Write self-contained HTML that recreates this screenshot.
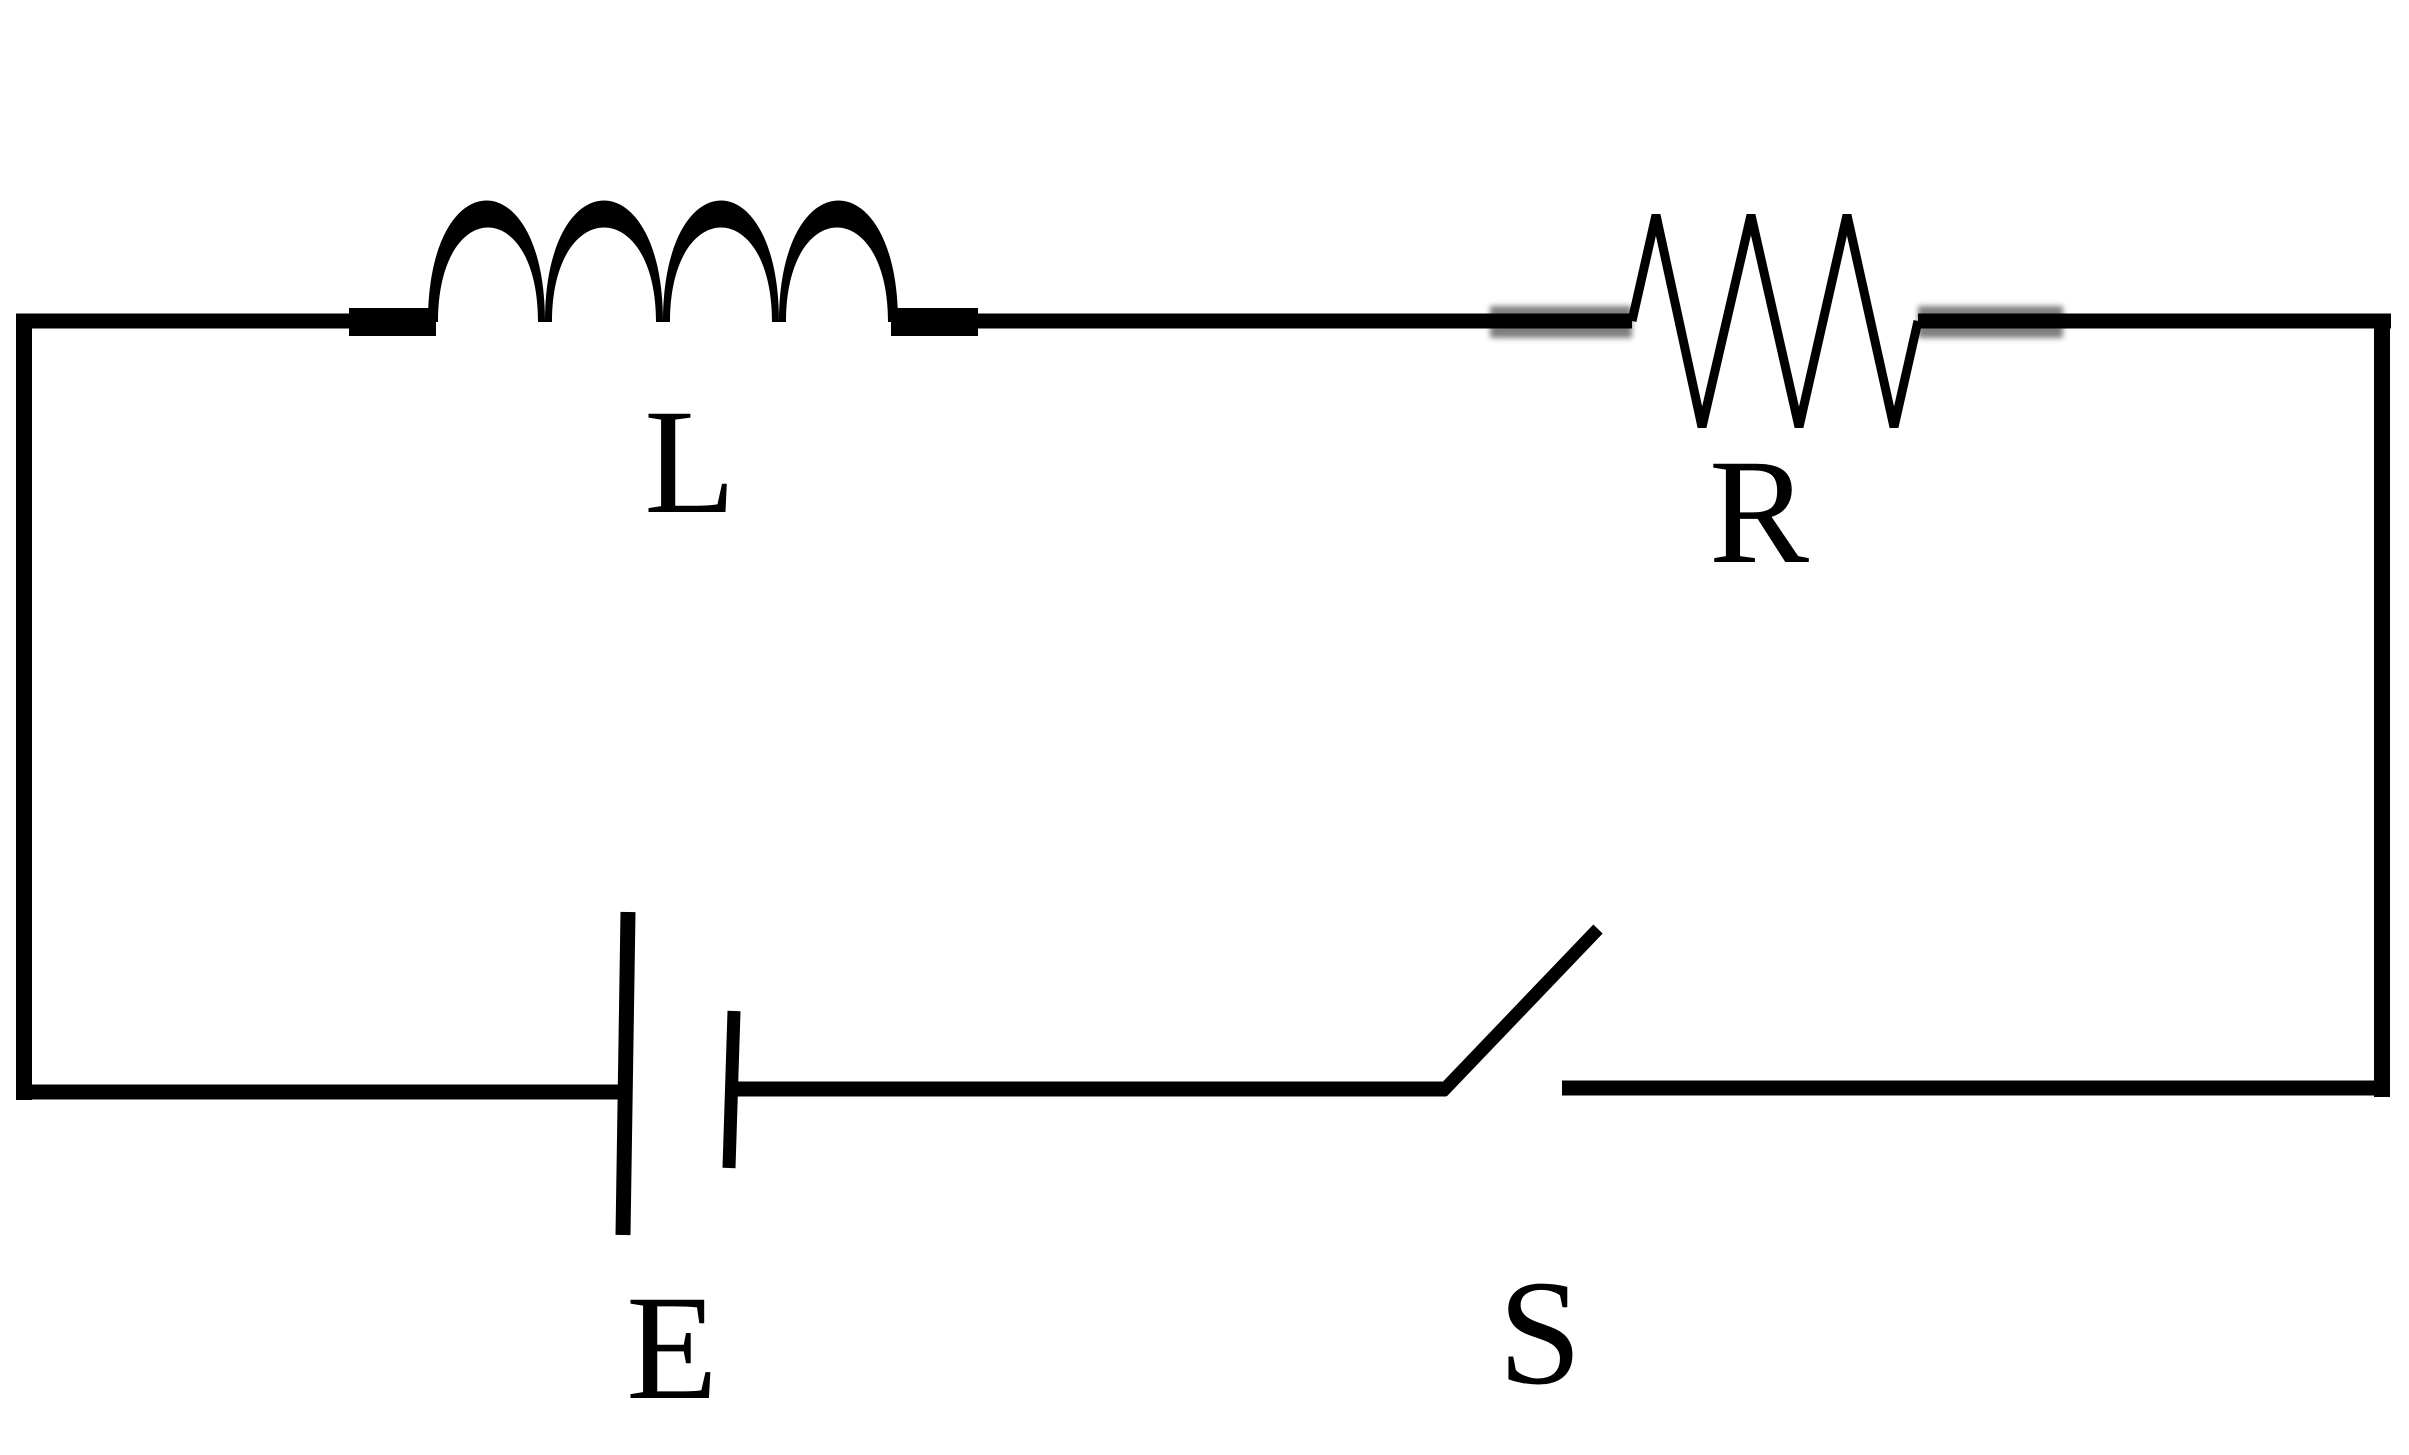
<!DOCTYPE html>
<html><head><style>
html,body{margin:0;padding:0;background:#fff;}
svg{display:block;}
text{font-family:"Liberation Serif","Times New Roman",Times,serif;font-size:150px;fill:#000;}
</style></head><body>
<svg width="2409" height="1455" viewBox="0 0 2409 1455" xmlns="http://www.w3.org/2000/svg">
<defs><filter id="b" x="-10%" y="-100%" width="120%" height="300%"><feGaussianBlur stdDeviation="3"/></filter></defs>
<line x1="16" y1="321" x2="2391" y2="321" stroke="#000" stroke-width="15"/>
<rect x="1632" y="300" width="286" height="45" fill="#fff"/>
<line x1="24" y1="314" x2="24" y2="1100" stroke="#000" stroke-width="16"/>
<line x1="2382" y1="314" x2="2382" y2="1097" stroke="#000" stroke-width="16"/>
<rect x="349" y="308" width="87" height="28" fill="#000"/>
<rect x="891" y="308" width="87" height="28" fill="#000"/>
<rect x="436" y="300" width="455" height="40" fill="#fff"/>
<g fill="#000">
<path d="M428,322 C428,160 545,160 545,322 L538,322 C538,196 438,196 438,322 Z"/>
<path d="M545,322 C545,160 663,160 663,322 L656,322 C656,196 552,196 552,322 Z"/>
<path d="M663,322 C663,160 779,160 779,322 L772,322 C772,196 670,196 670,322 Z"/>
<path d="M779,322 C779,160 898,160 898,322 L888,322 C888,196 786,196 786,322 Z"/>
</g>
<rect x="1490" y="306" width="142" height="32" fill="#000" opacity="0.5" filter="url(#b)"/>
<rect x="1918" y="306" width="145" height="32" fill="#000" opacity="0.5" filter="url(#b)"/>
<polyline points="1632,321 1656,215 1702,427 1751,215 1799,427 1847,215 1894,427 1918,321" fill="none" stroke="#000" stroke-width="9"/>
<line x1="16" y1="1092" x2="624" y2="1092" stroke="#000" stroke-width="15"/>
<line x1="730" y1="1089" x2="1446" y2="1089" stroke="#000" stroke-width="15"/>
<line x1="1562" y1="1088" x2="2390" y2="1088" stroke="#000" stroke-width="15"/>
<line x1="628" y1="912" x2="623" y2="1235" stroke="#000" stroke-width="15"/>
<line x1="734" y1="1011" x2="729" y2="1168" stroke="#000" stroke-width="13"/>
<line x1="1442" y1="1092" x2="1598" y2="929" stroke="#000" stroke-width="13"/>
<text x="690" y="512" text-anchor="middle" font-family="Liberation Serif, serif">L</text>
<text x="1759" y="562" text-anchor="middle" font-family="Liberation Serif, serif">R</text>
<text x="672" y="1398" text-anchor="middle" font-family="Liberation Serif, serif">E</text>
<text x="1540" y="1383" text-anchor="middle" font-family="Liberation Serif, serif">S</text>
</svg>
</body></html>
